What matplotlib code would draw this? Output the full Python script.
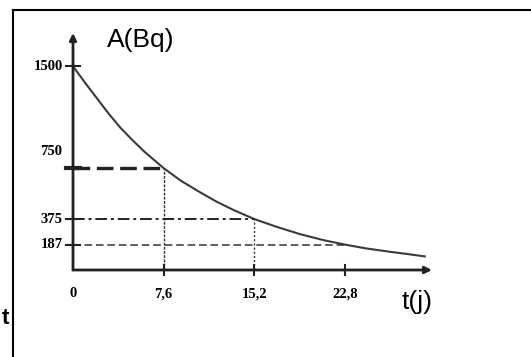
import matplotlib
matplotlib.use("Agg")
import matplotlib.pyplot as plt
from matplotlib.lines import Line2D

# Data
t_days = [0, 1, 2, 3, 4, 5, 6, 7.6, 9, 10.5, 12, 13.5, 15.2, 17, 19, 21, 22.8, 24.5, 26.5, 28, 29.5]
activity = [1500, 1380, 1265, 1150, 1045, 955, 870, 750, 660, 580, 505, 440, 375, 320, 265, 220, 187, 160, 135, 118, 100]
y_marks = [1500, 750, 375, 187]
y_labels = ["1500", "750", "375", "187"]
x_marks = [0, 7.6, 15.2, 22.8]
x_labels = ["0", "7,6", "15,2", "22,8"]

W, H = 531, 357
fig = plt.figure(figsize=(W / 100, H / 100), dpi=100)
fig.patch.set_facecolor("white")

x0, x1 = 73, 432
ybot, ytop = 270, 33
ax = fig.add_axes([x0 / W, (H - ybot) / H, (x1 - x0) / W, (ybot - ytop) / H])
ax.set_xlim(0, 30.1)
ax.set_ylim(0, 1745)
ax.axis("off")

# frame of the scanned box
fig.add_artist(Line2D([13 / W, 1], [(H - 10) / H] * 2, color="black", lw=1.5, transform=fig.transFigure))
fig.add_artist(Line2D([13 / W] * 2, [0, (H - 10) / H], color="black", lw=1.5, transform=fig.transFigure))
fig.text(0.003, (H - 318) / H, "t", fontsize=16, fontweight="bold", family="Liberation Sans",
         ha="left", va="center")

# axes with arrows
ax.annotate("", xy=(30.1, 0), xytext=(0, 0), annotation_clip=False,
            arrowprops=dict(arrowstyle="-|>", lw=2, color="#222222", mutation_scale=10, shrinkA=0, shrinkB=0))
ax.annotate("", xy=(0, 1745), xytext=(0, 0), annotation_clip=False,
            arrowprops=dict(arrowstyle="-|>", lw=2, color="#222222", mutation_scale=10, shrinkA=0, shrinkB=0))

# curve
ax.plot(t_days, activity, color="#3a3a3a", lw=1.5, clip_on=False)

# guide lines
ax.plot([0, x_marks[1]], [y_marks[1]] * 2, color="#222222", lw=2.4, dashes=(5, 2), clip_on=False)
ax.plot([x_marks[1]] * 2, [0, y_marks[1]], color="#333333", lw=1.0, dashes=(2, 1), clip_on=False)
ax.plot([0, x_marks[2]], [y_marks[2]] * 2, color="#222222", lw=1.4, dashes=(6, 2, 1.5, 2), clip_on=False)
ax.plot([x_marks[2]] * 2, [0, y_marks[2]], color="#333333", lw=1.0, dashes=(1.5, 1.5), clip_on=False)
ax.plot([0, x_marks[3]], [y_marks[3]] * 2, color="#333333", lw=1.1, dashes=(5, 2.5), clip_on=False)

# tick marks
for v in y_marks:
    lw = 3 if v == 750 else 1.5
    ax.plot([-0.6, 0.6], [v, v], color="#222222", lw=lw, clip_on=False)
for v in x_marks[1:]:
    ax.plot([v, v], [-35, 35], color="#222222", lw=1.5, clip_on=False)

# tick labels
for v, lab in zip(y_marks, y_labels):
    dy = 12 if v == 750 else 0
    ax.annotate(lab, xy=(0, v), xytext=(-7.5, dy), textcoords="offset points",
                ha="right", va="center", fontsize=10.5, fontweight="bold",
                family="Liberation Serif", annotation_clip=False)
for v, lab in zip(x_marks, x_labels):
    ax.annotate(lab, xy=(v, 0), xytext=(0, -17), textcoords="offset points",
                ha="center", va="center", fontsize=10.5, fontweight="bold",
                family="Liberation Serif", annotation_clip=False)

# axis titles
fig.text(107 / W, (H - 40) / H, "A(Bq)", fontsize=19, family="Liberation Sans", ha="left", va="center")
fig.text(402 / W, (H - 302) / H, "t(j)", fontsize=19, family="Liberation Sans", ha="left", va="center")

fig.savefig("out.png", dpi=100, facecolor="white")
